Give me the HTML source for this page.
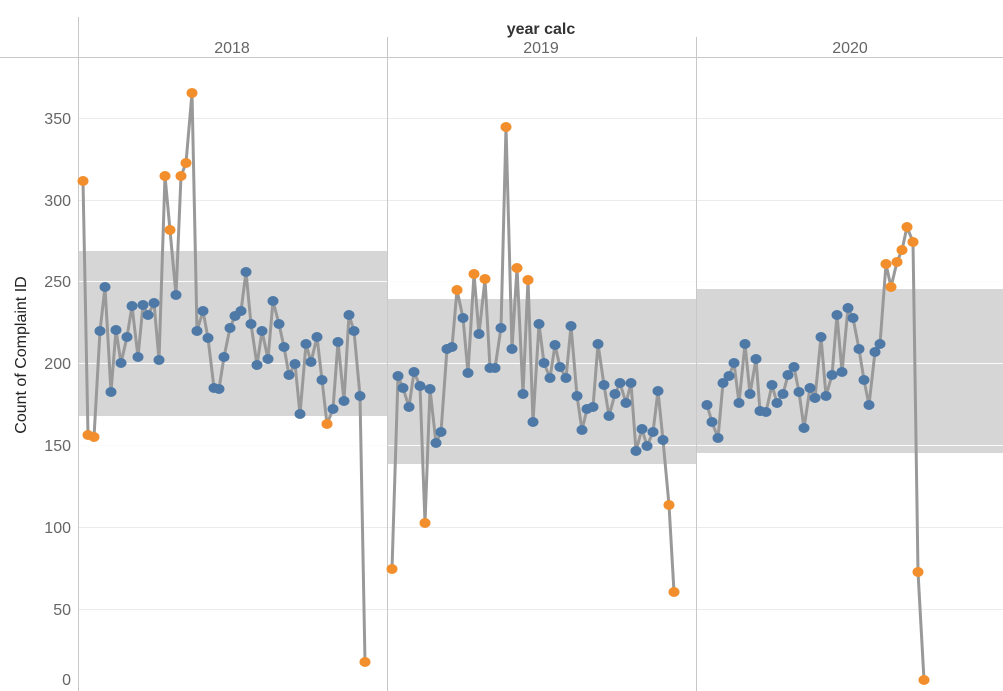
<!DOCTYPE html><html><head><style>body{margin:0;background:#fff}svg{display:block}</style></head><body>
<svg width="1003" height="691" xmlns="http://www.w3.org/2000/svg" font-family="Liberation Sans, sans-serif">
<rect width="1003" height="691" fill="#fff"/>
<rect x="79" y="251" width="308" height="165" fill="#d6d6d6"/>
<rect x="387" y="299" width="309" height="165" fill="#d6d6d6"/>
<rect x="696" y="289" width="307" height="164" fill="#d6d6d6"/>
<g stroke="#ebebeb" stroke-width="1">
<line x1="79" x2="1003" y1="118.5" y2="118.5"/><line x1="79" x2="1003" y1="200.5" y2="200.5"/><line x1="79" x2="1003" y1="281.5" y2="281.5"/><line x1="79" x2="1003" y1="363.5" y2="363.5"/><line x1="79" x2="1003" y1="445.5" y2="445.5"/><line x1="79" x2="1003" y1="527.5" y2="527.5"/><line x1="79" x2="1003" y1="609.5" y2="609.5"/>
</g>
<g stroke="#fff" stroke-width="1" opacity="0.8">
<line x1="79" x2="1003" y1="281.5" y2="281.5"/><line x1="79" x2="1003" y1="363.5" y2="363.5"/><line x1="79" x2="1003" y1="445.5" y2="445.5"/>
</g>
<g stroke="#c8c8c8" stroke-width="1">
<line x1="78.5" x2="78.5" y1="17" y2="691"/><line x1="387.5" x2="387.5" y1="37" y2="691"/><line x1="696.5" x2="696.5" y1="37" y2="691"/><line x1="0" x2="1003" y1="57.5" y2="57.5"/>
</g>
<text x="541" y="34" text-anchor="middle" font-size="16" fill="#333" font-weight="bold">year calc</text>
<g font-size="16" fill="#666" text-anchor="middle"><text x="232" y="53">2018</text><text x="541" y="53">2019</text><text x="850" y="53">2020</text></g>
<g font-size="16" fill="#666" text-anchor="end"><text x="71" y="124">350</text><text x="71" y="206">300</text><text x="71" y="287">250</text><text x="71" y="369">200</text><text x="71" y="451">150</text><text x="71" y="533">100</text><text x="71" y="615">50</text><text x="71" y="685">0</text></g>
<text transform="translate(26,355) rotate(-90)" text-anchor="middle" font-size="16" fill="#222">Count of Complaint ID</text>
<g id="g"></g>
</svg>
<script>
const d=[
[[83,181,1],[88,435,1],[94,437,1],[100,331],[105,287],[111,392],[116,330],[121,363],[127,337],[132,306],[138,357],[143,305],[148,315],[154,303],[159,360],[165,176,1],[170,230,1],[176,295],[181,176,1],[186,163,1],[192,93,1],[197,331],[203,311],[208,338],[214,388],[219,389],[224,357],[230,328],[235,316],[241,311],[246,272],[251,324],[257,365],[262,331],[268,359],[273,301],[279,324],[284,347],[289,375],[295,364],[300,414],[306,344],[311,362],[317,337],[322,380],[327,424,1],[333,409],[338,342],[344,401],[349,315],[354,331],[360,396],[365,662,1]],
[[392,569,1],[398,376],[403,388],[409,407],[414,372],[420,386],[425,523,1],[430,389],[436,443],[441,432],[447,349],[452,347],[457,290,1],[463,318],[468,373],[474,274,1],[479,334],[485,279,1],[490,368],[495,368],[501,328],[506,127,1],[512,349],[517,268,1],[523,394],[528,280,1],[533,422],[539,324],[544,363],[550,378],[555,345],[560,367],[566,378],[571,326],[577,396],[582,430],[587,409],[593,407],[598,344],[604,385],[609,416],[615,394],[620,383],[626,403],[631,383],[636,451],[642,429],[647,446],[653,432],[658,391],[663,440],[669,505,1],[674,592,1]],
[[707,405],[712,422],[718,438],[723,383],[729,376],[734,363],[739,403],[745,344],[750,394],[756,359],[760,411],[766,412],[772,385],[777,403],[783,394],[788,375],[794,367],[799,392],[804,428],[810,388],[815,398],[821,337],[826,396],[832,375],[837,315],[842,372],[848,308],[853,318],[859,349],[864,380],[869,405],[875,352],[880,344],[886,264,1],[891,287,1],[897,262,1],[902,250,1],[907,227,1],[913,242,1],[918,572,1],[924,680,1]]];
let s='';
for(const p of d){s+=`<polyline fill="none" stroke="#999" stroke-width="3" stroke-linejoin="round" points="${p.map(q=>q[0]+','+q[1]).join(' ')}"/>`;}
for(const p of d)for(const q of p)s+=`<ellipse cx="${q[0]}" cy="${q[1]}" rx="5.5" ry="5" fill="${q[2]?'#f28e2b':'#4e79a7'}"/>`;
document.getElementById('g').innerHTML=s;
</script>
</body></html>
